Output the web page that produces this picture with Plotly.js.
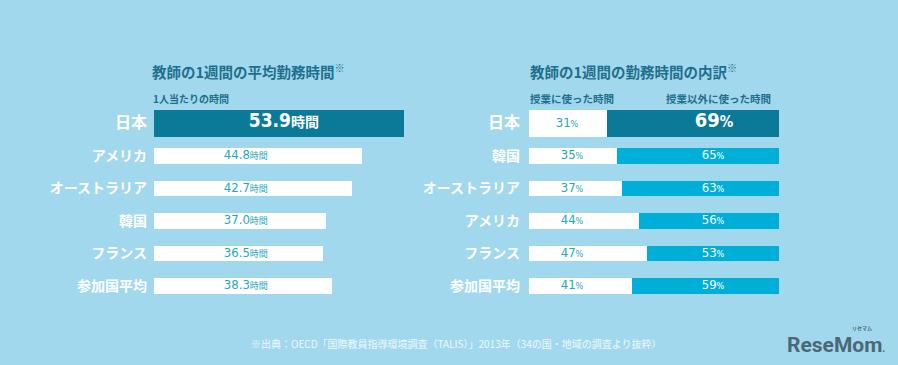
<!DOCTYPE html>
<html>
<head>
<meta charset="utf-8">
<script src="https://cdn.plot.ly/plotly-3.0.1.min.js"></script>
<style>html,body{margin:0;padding:0;background:#a2d8ee;}#chart{width:898px;height:365px;}</style>
</head>
<body>
<div id="chart"></div>
<script>
// ---- data ----
const hoursCountries = ['日本', 'アメリカ', 'オーストラリア', '韓国', 'フランス', '参加国平均'];
const hours = [53.9, 44.8, 42.7, 37.0, 36.5, 38.3];

const splitCountries = ['日本', '韓国', 'オーストラリア', 'アメリカ', 'フランス', '参加国平均'];
const teachPct = [31, 35, 37, 44, 47, 41];
const otherPct = [69, 65, 63, 56, 53, 59];

const leftTitle = '教師の1週間の平均勤務時間';
const leftSub = '1人当たりの時間';
const rightTitle = '教師の1週間の勤務時間の内訳';
const rightSub1 = '授業に使った時間';
const rightSub2 = '授業以外に使った時間';
const source = '※出典：OECD「国際教員指導環境調査（TALIS）」2013年（34の国・地域の調査より抜粋）';

// ---- styles ----
const BG = '#a2d8ee';
const DARK = '#0b7a99';
const CYAN = '#00afd7';
const TITLE = '#1e6f8c';
const INTXT = '#27a6c3';
const NUMFONT = 'Liberation Sans Narrow, DejaVu Sans Condensed, Roboto, sans-serif';
const JP = 'Noto Sans CJK JP, sans-serif';

const W = 898, H = 365;
const rowTop = 107.25, rowBot = 302.25;
const yDom = [(H - rowBot) / H, (H - rowTop) / H];

const isJapan = c => c === '日本';
const barW = cats => cats.map(c => isJapan(c) ? 0.83 : 0.49);
const tickTxt = cats => cats.map(c => isJapan(c) ? '<span style="font-size:16px">' + c + '</span>' : c);

const traces = [
  {
    type: 'bar', orientation: 'h', x: hours, y: hoursCountries, width: barW(hoursCountries),
    marker: {color: hoursCountries.map(c => isJapan(c) ? DARK : '#ffffff')},
    hoverinfo: 'none', xaxis: 'x', yaxis: 'y'
  },
  {
    type: 'scatter', mode: 'text', y: hoursCountries,
    x: hoursCountries.map(c => isJapan(c) ? 28.0 : 19.8),
    text: hours.map((h, i) => isJapan(hoursCountries[i])
      ? '<b><span style="font-size:19px">' + h.toFixed(1) + '</span><span style="font-size:14px;font-family:Noto Sans CJK JP">時間</span></b>'
      : '<span style="font-size:13px">' + h.toFixed(1) + '</span><span style="font-size:9px;font-family:Noto Sans CJK JP">時間</span>'),
    textfont: {family: NUMFONT, size: 13, color: hoursCountries.map(c => isJapan(c) ? '#ffffff' : INTXT)},
    textposition: 'middle center', hoverinfo: 'none', xaxis: 'x', yaxis: 'y'
  },
  {
    type: 'bar', orientation: 'h', x: teachPct, y: splitCountries, width: barW(splitCountries),
    marker: {color: '#ffffff'}, hoverinfo: 'none', xaxis: 'x2', yaxis: 'y2'
  },
  {
    type: 'bar', orientation: 'h', x: otherPct, y: splitCountries, width: barW(splitCountries),
    marker: {color: splitCountries.map(c => isJapan(c) ? DARK : CYAN)}, hoverinfo: 'none', xaxis: 'x2', yaxis: 'y2'
  },
  {
    type: 'scatter', mode: 'text', y: splitCountries,
    x: splitCountries.map(c => isJapan(c) ? 15.2 : 17.2),
    text: teachPct.map(v => '<span style="font-size:13px">' + v + '</span><span style="font-size:9px">%</span>'),
    textfont: {family: NUMFONT, size: 13, color: INTXT},
    textposition: 'middle center', hoverinfo: 'none', xaxis: 'x2', yaxis: 'y2'
  },
  {
    type: 'scatter', mode: 'text', y: splitCountries,
    x: splitCountries.map(c => isJapan(c) ? 74 : 73.6),
    text: otherPct.map((v, i) => isJapan(splitCountries[i])
      ? '<b><span style="font-size:20px">' + v + '</span><span style="font-size:15px">%</span></b>'
      : '<span style="font-size:13px">' + v + '</span><span style="font-size:9px">%</span>'),
    textfont: {family: NUMFONT, size: 13, color: '#ffffff'},
    textposition: 'middle center', hoverinfo: 'none', xaxis: 'x2', yaxis: 'y2'
  }
];

const yBase = {
  type: 'category', range: [5.5, -0.5], showgrid: false, zeroline: false, showline: false,
  ticks: '', ticklabelstandoff: 6, fixedrange: true,
  tickfont: {family: JP, size: 14, color: '#ffffff', weight: 'bold'}
};
const xBase = {showgrid: false, zeroline: false, showline: false, showticklabels: false, ticks: '', fixedrange: true};

const ann = (text, x, y, size, color, extra) => Object.assign({
  text, x: x / W, y: 1 - y / H, xref: 'paper', yref: 'paper', xanchor: 'left', yanchor: 'middle',
  showarrow: false, font: {family: JP, size, color, weight: 'bold'}
}, extra || {});

const layout = {
  width: W, height: H, margin: {l: 0, r: 0, t: 0, b: 0},
  paper_bgcolor: BG, plot_bgcolor: 'rgba(0,0,0,0)', showlegend: false, barmode: 'stack', bargap: 0,
  font: {family: JP},
  xaxis: Object.assign({}, xBase, {domain: [154 / W, 404 / W], range: [0, 53.9], anchor: 'y'}),
  yaxis: Object.assign({}, yBase, {domain: yDom, anchor: 'x', tickmode: 'array', tickvals: hoursCountries, ticktext: tickTxt(hoursCountries)}),
  xaxis2: Object.assign({}, xBase, {domain: [529 / W, 779 / W], range: [0, 100], anchor: 'y2'}),
  yaxis2: Object.assign({}, yBase, {domain: yDom, anchor: 'x2', tickmode: 'array', tickvals: splitCountries, ticktext: tickTxt(splitCountries), ticklabelstandoff: 8}),
  annotations: [
    ann(leftTitle + '<sup>※</sup>', 150, 71, 14.5, TITLE),
    ann(leftSub, 151, 98, 10, TITLE),
    ann(rightTitle + '<sup>※</sup>', 528, 71, 14.5, TITLE),
    ann(rightSub1, 528, 98, 10.5, TITLE),
    ann(rightSub2, 664, 98, 10.5, TITLE),
    ann(source, 249, 343, 10, '#eef8fc', {font: {family: JP, size: 10, color: '#eef8fc', weight: 'normal'}}),
    ann('ReseMom<span style="font-size:10px">.</span>', 785, 345, 21, '#4a6876', {font: {family: 'Roboto, DejaVu Sans, sans-serif', size: 21, color: '#4a6876', weight: 'bold'}}),
    ann('リセマム', 850, 328, 5, '#4a6876')
  ]
};

Plotly.newPlot('chart', traces, layout, {displayModeBar: false, staticPlot: true});
</script>
</body>
</html>
